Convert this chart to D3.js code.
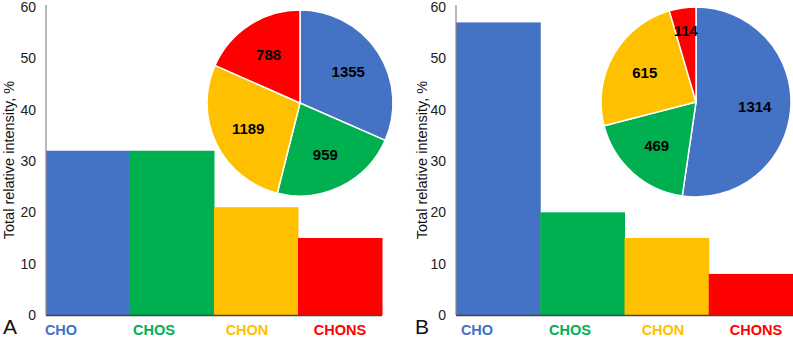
<!DOCTYPE html>
<html><head><meta charset="utf-8">
<script src="https://cdn.jsdelivr.net/npm/d3@7"></script>
<style>body{margin:0;background:#fff}svg{display:block}text{font-family:"Liberation Sans",Arial,sans-serif}</style>
</head><body><svg id="c" width="793" height="338"></svg>
<script>
const categories = ["CHO","CHOS","CHON","CHONS"];
const colors = ["#4472C4","#00B050","#FFC000","#FF0000"];
const barsA = [32, 32, 21, 15];
const barsB = [57, 20, 15, 8];
const pieA = [1355, 959, 1189, 788];
const pieB = [1314, 469, 615, 114];
const yTicks = [0,10,20,30,40,50,60];
const panelLetters = ["A","B"];
const yTitle = "Total relative intensity, %";

const svg = d3.select("#c");

const panels = [
  {letter:panelLetters[0], bars:barsA, pie:pieA, x0:46, x1:382, labX0:61, labX1:340, letterX:3, titleX:14, pcx:300, pcy:103, pr:93},
  {letter:panelLetters[1], bars:barsB, pie:pieB, x0:456, x1:793, labX0:477, labX1:756, letterX:415, titleX:427, pcx:696, pcy:102, pr:95}
];

panels.forEach(p => {
  const g = svg.append("g");
  const y = d3.scaleLinear().domain([0,60]).range([315,7]);
  const x = d3.scaleBand().domain(categories).range([p.x0, p.x1]).padding(0);
  const xl = d3.scalePoint().domain(categories).range([p.labX0, p.labX1]);

  g.selectAll("rect.bar").data(p.bars).join("rect")
    .attr("x",(d,i)=>x(categories[i])).attr("width",x.bandwidth()+0.5)
    .attr("y",d=>y(d)).attr("height",d=>y(0)-y(d))
    .attr("fill",(d,i)=>colors[i]);

  const ya = d3.axisLeft(y).tickValues(yTicks).tickSize(0).tickPadding(10);
  const ag = g.append("g").attr("transform",`translate(${p.x0},0)`).call(ya);
  ag.select(".domain").attr("stroke","#888").attr("stroke-width",1.2).attr("d",`M0,5V315`);
  ag.selectAll("text").attr("font-size",14).attr("fill","#222").attr("font-family","Liberation Sans, Arial, sans-serif");

  g.append("line").attr("x1",p.x0).attr("x2",p.x1).attr("y1",315.5).attr("y2",315.5)
    .attr("stroke","#444").attr("stroke-width",1.5);

  g.selectAll("text.cat").data(categories).join("text").attr("class","cat")
    .attr("x",d=>xl(d)).attr("y",335).attr("text-anchor","middle")
    .attr("font-size",14.5).attr("font-weight","bold")
    .attr("fill",(d,i)=>colors[i]).text(d=>d);

  g.append("text").attr("x",p.letterX).attr("y",334).attr("font-size",21).attr("fill","#111").text(p.letter);

  g.append("text").attr("transform",`translate(${p.titleX},160) rotate(-90)`)
    .attr("text-anchor","middle").attr("font-size",14.5).attr("fill","#111").text(yTitle);

  const pie = d3.pie().sort(null).value(d=>d);
  const arcs = pie(p.pie);
  const arc = d3.arc().innerRadius(0).outerRadius(p.pr);
  const pg = g.append("g").attr("transform",`translate(${p.pcx},${p.pcy})`);
  pg.selectAll("path").data(arcs).join("path").attr("d",arc)
    .attr("fill",(d,i)=>colors[i]).attr("stroke","#fff").attr("stroke-width",1.5);
  pg.selectAll("text").data(arcs).join("text")
    .attr("transform",d=>{
      const small = (d.endAngle-d.startAngle) < 0.5;
      const r = p.pr*(small?0.76:0.62);
      const a = (d.startAngle+d.endAngle)/2;
      return `translate(${Math.sin(a)*r},${-Math.cos(a)*r})`;
    })
    .attr("text-anchor","middle").attr("dy","0.36em")
    .attr("font-size",15).attr("font-weight","bold").attr("fill","#000")
    .text(d=>d.data);
});
</script></body></html>
